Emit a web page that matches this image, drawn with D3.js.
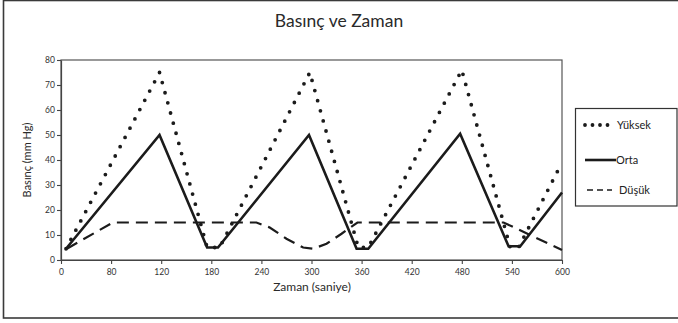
<!DOCTYPE html>
<html>
<head>
<meta charset="utf-8">
<script src="https://cdn.jsdelivr.net/npm/d3@7"></script>
<style>
  html, body { margin: 0; padding: 0; background: #fff; }
  svg { display: block; font-family: Lato, "Open Sans", sans-serif; }
</style>
</head>
<body>
<svg id="chart" width="678" height="323"></svg>
<script>
// Pressure readings over time: [time (s), pressure (mm Hg)]
const yuksek = [[6,4.5],[118,75],[175,5],[190,5],[298,75],[356,5],[368,5],[480,76],[538,5],[548,5],[600,39]];
const orta   = [[6,4.5],[118,50],[175,5],[188,5],[297,50],[354,4.5],[368,4.5],[478,50.5],[536,5.5],[550,5.5],[600,27]];
const dusuk  = [[7,4.5],[62,15],[234,15],[250,13],[270,8.5],[290,5],[302,4.5],[318,6.5],[336,10.5],[355,15],[530,15],[600,4]];

const xTickValues = [0,60,120,180,240,300,360,420,480,540,600];
const xTickLabels = ["0","80","120","180","240","300","360","420","480","540","600"];
const yTickValues = [0,10,20,30,40,50,60,70,80];

const seriesNames = ["Yüksek","Orta","Düşük"];

const svg = d3.select("#chart");
const ink = "#1b1b1b";

// outer frame
svg.append("rect")
  .attr("x", 3.5).attr("y", 0.5)
  .attr("width", 700).attr("height", 317.5)
  .attr("fill", "none").attr("stroke", "#3a3a3a").attr("stroke-width", 1.6);

// title
svg.append("text")
  .attr("x", 339).attr("y", 27)
  .attr("text-anchor", "middle")
  .attr("font-size", 17.5)
  .attr("fill", "#2a2a2a")
  .text("Basınç ve Zaman");

const plot = { left: 61, right: 562, top: 60, bottom: 260 };

const x = d3.scaleLinear().domain([0, 600]).range([plot.left, plot.right]);
const y = d3.scaleLinear().domain([0, 80]).range([plot.bottom, plot.top]);

// plot frame
svg.append("rect")
  .attr("x", plot.left).attr("y", plot.top)
  .attr("width", plot.right - plot.left).attr("height", plot.bottom - plot.top)
  .attr("fill", "none").attr("stroke", "#555").attr("stroke-width", 1.2);

// axes
const xAxis = d3.axisBottom(x)
  .tickValues(xTickValues)
  .tickFormat((d, i) => xTickLabels[i])
  .tickSize(4).tickSizeOuter(0);
const yAxis = d3.axisLeft(y)
  .tickValues(yTickValues)
  .tickSize(4).tickSizeOuter(0);

const gx = svg.append("g").attr("transform", `translate(0,${plot.bottom})`).call(xAxis);
const gy = svg.append("g").attr("transform", `translate(${plot.left},0)`).call(yAxis);
[gx, gy].forEach(g => {
  g.select(".domain").attr("stroke", "#444").attr("stroke-width", 1.2);
  g.selectAll(".tick line").attr("stroke", "#444").attr("stroke-width", 1.1);
  g.selectAll(".tick text").attr("font-size", 8.5).attr("fill", "#333")
    .attr("font-family", "Lato, 'Open Sans', sans-serif");
});
gx.selectAll(".tick text").attr("dy", "0.9em");
gy.selectAll(".tick text").attr("dx", "0.1em");

// axis titles
svg.append("text")
  .attr("x", 312).attr("y", 291)
  .attr("text-anchor", "middle")
  .attr("font-size", 12)
  .attr("fill", "#2a2a2a")
  .text("Zaman (saniye)");

svg.append("text")
  .attr("transform", `translate(31,${(plot.top + plot.bottom) / 2}) rotate(-90)`)
  .attr("text-anchor", "middle")
  .attr("font-size", 11)
  .attr("fill", "#2a2a2a")
  .text("Basınç (mm Hg)");

// series lines
const line = d3.line().x(d => x(d[0])).y(d => y(d[1]));

const styles = {
  "Yüksek": { width: 3.8, dash: "0,10.5", cap: "round" },
  "Orta":   { width: 2.6, dash: null, cap: "butt" },
  "Düşük":  { width: 2.2, dash: "12,7", cap: "butt" }
};
const dataBy = { "Yüksek": yuksek, "Orta": orta, "Düşük": dusuk };

seriesNames.forEach(name => {
  const s = styles[name];
  svg.append("path")
    .datum(dataBy[name])
    .attr("d", line)
    .attr("fill", "none")
    .attr("stroke", ink)
    .attr("stroke-width", s.width)
    .attr("stroke-linecap", s.cap)
    .attr("stroke-linejoin", "miter")
    .attr("stroke-dasharray", s.dash);
});

// legend
const lg = svg.append("g");
lg.append("rect")
  .attr("x", 575.5).attr("y", 108.5)
  .attr("width", 101.5).attr("height", 97.5)
  .attr("fill", "#fff").attr("stroke", "#333").attr("stroke-width", 1.2);

const legendRows = [
  { name: "Yüksek", y: 125, x1: 585, x2: 615, tx: 617 },
  { name: "Orta",   y: 160, x1: 585, x2: 616, tx: 616 },
  { name: "Düşük",  y: 190, x1: 587, x2: 612, tx: 619 }
];
legendRows.forEach(r => {
  const s = styles[r.name];
  lg.append("line")
    .attr("x1", r.x1).attr("x2", r.x2).attr("y1", r.y).attr("y2", r.y)
    .attr("stroke", ink)
    .attr("stroke-width", r.name === "Düşük" ? 1.6 : s.width)
    .attr("stroke-linecap", s.cap)
    .attr("stroke-dasharray", r.name === "Yüksek" ? "0,7.5" : (r.name === "Düşük" ? "6,4" : null));
  lg.append("text")
    .attr("x", r.tx).attr("y", r.y + 4)
    .attr("font-size", 11)
    .attr("fill", "#222")
    .text(r.name);
});
</script>
</body>
</html>
